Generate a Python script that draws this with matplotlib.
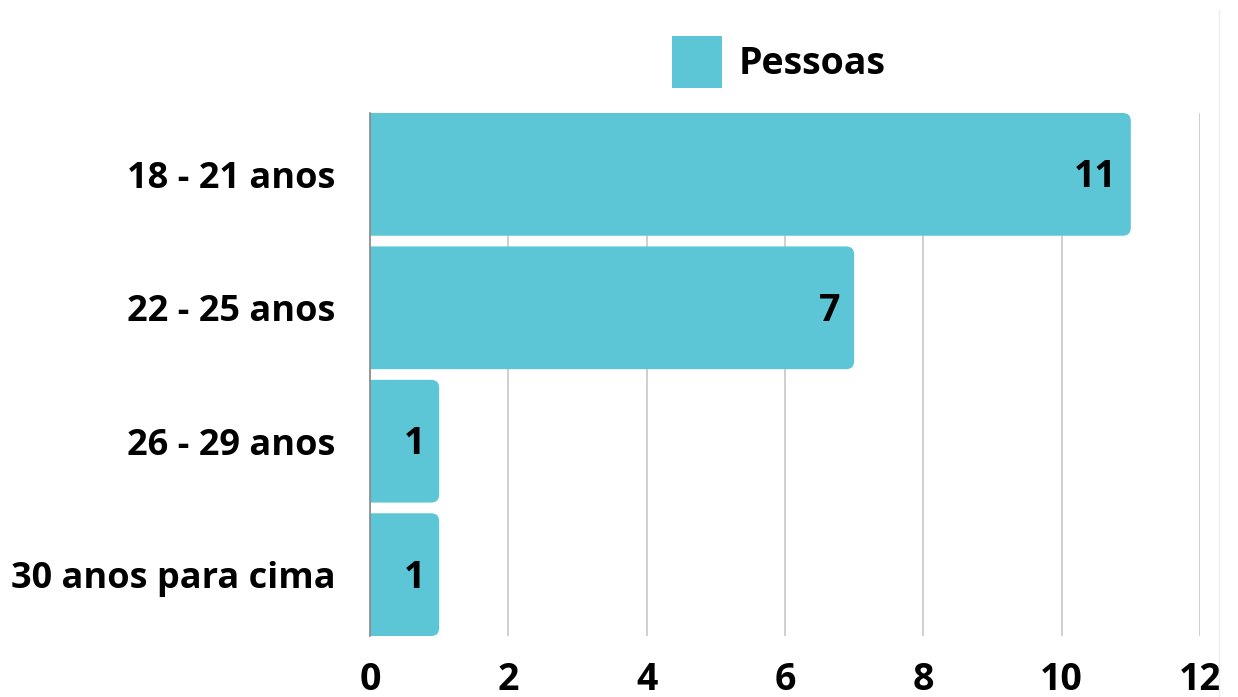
import matplotlib
matplotlib.use("Agg")
import matplotlib.pyplot as plt
from matplotlib.patches import FancyBboxPatch
from matplotlib.lines import Line2D

categorias = ["18 - 21 anos", "22 - 25 anos", "26 - 29 anos", "30 anos para cima"]
pessoas = [11, 7, 1, 1]
x_ticks = [0, 2, 4, 6, 8, 10, 12]
serie = "Pessoas"

cor = "#5CC6D7"
plt.rcParams["font.family"] = ["Open Sans", "DejaVu Sans"]
plt.rcParams["font.weight"] = "bold"

W, H, DPI = 1238, 697, 100
fig = plt.figure(figsize=(W / DPI, H / DPI), dpi=DPI)
ax = fig.add_axes([370 / W, 1 - 636 / H, (1200 - 370) / W, (636 - 113) / H])

bars = ax.barh(categorias, pessoas, height=0.92, color=cor, label=serie, zorder=2)
ax.set_xlim(0, 12)
ax.set_ylim(3.46, -0.46)

# cantos arredondados so na direita (o lado esquerdo fica cortado pelo eixo)
px_x = 12 / (1200 - 370)
px_y = 3.92 / (636 - 113)
r = 8 * px_x
for b in bars:
    b.set_visible(False)
    x0, y0, w, h = b.get_x(), b.get_y(), b.get_width(), b.get_height()
    p = FancyBboxPatch((x0 - 2 * r, y0), w + 2 * r, h, boxstyle=f"round,pad=0,rounding_size={r}",
                       mutation_aspect=px_y / px_x, fc=cor, ec="none", zorder=2)
    ax.add_patch(p)

for i, v in enumerate(pessoas):
    ax.annotate(str(v), (v, i), xytext=(-14, -3), textcoords="offset pixels",
                ha="right", va="center", fontsize=27, fontweight="bold", color="black", zorder=3)

ax.set_xticks(x_ticks)
ax.grid(axis="x", color="#cccccc", linewidth=1.3, zorder=0)
ax.grid(axis="y", visible=False)
for s in ["top", "right", "bottom"]:
    ax.spines[s].set_visible(False)
ax.spines["left"].set_color("#888888")
ax.spines["left"].set_linewidth(1.2)
ax.spines["left"].set_zorder(3)
ax.tick_params(axis="x", length=0, labelsize=27, pad=18)
ax.tick_params(axis="y", length=0, labelsize=26, pad=25)
for lbl in ax.get_xticklabels() + ax.get_yticklabels():
    lbl.set_fontweight("bold")

fig.legend(handles=[bars[0]], labels=[serie], loc="center", bbox_to_anchor=(779 / W, 1 - 62 / H),
           frameon=False, handlelength=1.33, handleheight=1.75, handletextpad=0.45,
           prop={"weight": "bold", "size": 27})
leg_handle = fig.legends[0].legend_handles[0]
leg_handle.set_visible(True)

fig.add_artist(Line2D([1219 / W, 1219 / W], [0, 1 - 10 / H], color="#eeeef2", linewidth=1))

fig.savefig("out.png", dpi=DPI)
